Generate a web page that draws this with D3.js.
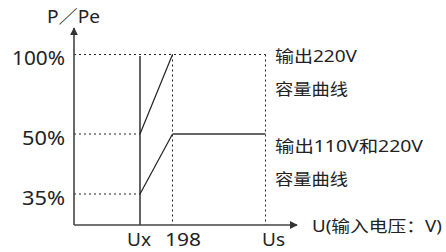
<!DOCTYPE html>
<html>
<head>
<meta charset="utf-8">
<script src="https://cdn.jsdelivr.net/npm/d3@7"></script>
<style>
  body { margin: 0; background: #fff; }
  text { font-family: "Noto Sans", "Noto Sans CJK SC", sans-serif; fill: #222; }
</style>
</head>
<body>
<div id="chart"></div>
<script>
// tick values on y axis (percent of rated power)
const yTicks = [35, 50, 100];
const yTickLabels = ["35%", "50%", "100%"];
// x positions (schematic): 0, Ux, 198, Us
const xKeys = ["0", "Ux", "198", "Us"];
const xLabels = ["Ux", "198", "Us"];
// capacity curves: [x key, percent]
const curve220 = [["Ux", 50], ["198", 100]];
const curveBoth = [["Ux", 35], ["198", 50], ["Us", 50]];
const noteTexts = ["输出220V", "容量曲线", "输出110V和220V", "容量曲线"];

const width = 446, height = 252;
const svg = d3.select("#chart").append("svg")
    .attr("width", width)
    .attr("height", height);

// schematic scales (not linear in value)
const x = d3.scaleOrdinal().domain(xKeys).range([74, 140, 172.5, 265.5]);
const y = d3.scaleLinear().domain([0, 35, 50, 100]).range([225, 194, 134, 54.5]);

const defs = svg.append("defs");
defs.append("marker")
    .attr("id", "arrow")
    .attr("viewBox", "0 0 10 10")
    .attr("refX", 9).attr("refY", 5)
    .attr("markerWidth", 8).attr("markerHeight", 8)
    .attr("markerUnits", "userSpaceOnUse")
    .attr("orient", "auto")
    .append("path")
    .attr("d", "M0,0 L10,5 L0,10 Z")
    .attr("fill", "#333");

// dotted guide lines
function dotted(x1, y1, x2, y2) {
    svg.append("line")
        .attr("x1", x1).attr("y1", y1).attr("x2", x2).attr("y2", y2)
        .attr("stroke", "#222").attr("stroke-width", 1)
        .attr("stroke-dasharray", "2,3");
}
dotted(x("0"), y(100), x("Us"), y(100));
dotted(x("0"), y(50), x("Ux"), y(50));
dotted(x("0"), y(35), x("Ux"), y(35));
dotted(x("198"), y(100), x("198"), y(0));
dotted(x("Us"), y(100), x("Us"), y(0));

// Ux solid vertical
svg.append("line")
    .attr("x1", x("Ux")).attr("x2", x("Ux"))
    .attr("y1", y(100) + 1.5).attr("y2", y(0))
    .attr("stroke", "#222").attr("stroke-width", 1.4);

// curves
const line = d3.line().x(d => x(d[0])).y(d => y(d[1]));
svg.append("path").datum(curve220)
    .attr("d", line).attr("fill", "none")
    .attr("stroke", "#222").attr("stroke-width", 1.2);
svg.append("path").datum(curveBoth.slice(0, 2))
    .attr("d", line).attr("fill", "none")
    .attr("stroke", "#222").attr("stroke-width", 1.2);
svg.append("path").datum(curveBoth.slice(1))
    .attr("d", line).attr("fill", "none")
    .attr("stroke", "#666").attr("stroke-width", 2);

// axes
svg.append("line")
    .attr("x1", x("0")).attr("y1", y(0))
    .attr("x2", x("0")).attr("y2", 28)
    .attr("stroke", "#444").attr("stroke-width", 1.6)
    .attr("marker-end", "url(#arrow)");
svg.append("line")
    .attr("x1", x("0")).attr("y1", y(0))
    .attr("x2", 297).attr("y2", y(0))
    .attr("stroke", "#444").attr("stroke-width", 1.6)
    .attr("marker-end", "url(#arrow)");

// y tick labels
const yLabW = { "35%": 43, "50%": 43, "100%": 53 };
svg.selectAll(".ylab")
    .data(yTicks)
    .enter().append("text")
    .attr("class", "ylab")
    .attr("x", 65)
    .attr("y", d => y(d) + 10.5)
    .attr("text-anchor", "end")
    .attr("textLength", (d, i) => yLabW[yTickLabels[i]])
    .attr("lengthAdjust", "spacingAndGlyphs")
    .style("font-size", "20px")
    .text((d, i) => yTickLabels[i]);

svg.append("text")
    .attr("x", 47).attr("y", 23)
    .attr("textLength", 53)
    .attr("lengthAdjust", "spacingAndGlyphs")
    .style("font-size", "18px")
    .text("P／Pe");

// x labels
const xLabX = [127, 165, 262];
const xLabW = [24, 36, 23];
svg.selectAll(".xlab")
    .data(xLabels)
    .enter().append("text")
    .attr("class", "xlab")
    .attr("x", (d, i) => xLabX[i])
    .attr("y", 246)
    .attr("textLength", (d, i) => xLabW[i])
    .attr("lengthAdjust", "spacingAndGlyphs")
    .style("font-size", "18px")
    .text(d => d);

svg.append("text")
    .attr("x", 312).attr("y", 232)
    .attr("textLength", 130)
    .attr("lengthAdjust", "spacingAndGlyphs")
    .style("font-size", "16px")
    .text("U(输入电压：V)");

// curve notes
const noteY = [62, 95, 152, 185];
const noteW = [82, 73, 148, 73];
svg.selectAll(".note")
    .data(noteTexts)
    .enter().append("text")
    .attr("class", "note")
    .attr("x", 275)
    .attr("y", (d, i) => noteY[i])
    .attr("textLength", (d, i) => noteW[i])
    .attr("lengthAdjust", "spacingAndGlyphs")
    .style("font-size", "16px")
    .text(d => d);
</script>
</body>
</html>
